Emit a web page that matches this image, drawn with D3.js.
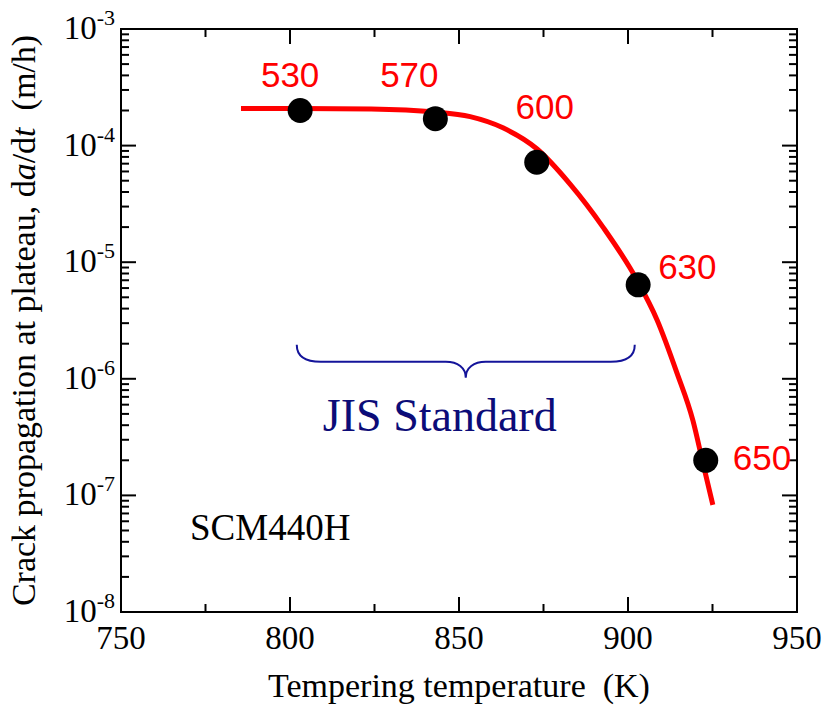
<!DOCTYPE html>
<html>
<head>
<meta charset="utf-8">
<script src="https://cdn.jsdelivr.net/npm/d3@7"></script>
<style>
  html, body { margin: 0; padding: 0; background: #fff; }
  svg { display: block; }
</style>
</head>
<body>
<svg id="chart" width="825" height="710"></svg>
<script>
// Measured points: tempering temperature (K) vs plateau crack growth rate (m/h)
const temps = [803, 843, 873, 903, 923];
const rates = [2.0e-4, 1.7e-4, 7.2e-5, 6.4e-6, 2.0e-7];
const tempLabels = ["530", "570", "600", "630", "650"]; // tempering temperature in °C

// Fitted trend curve
const curveT = [785.5, 803, 824, 843, 853.3, 863.0, 873.1, 882.8, 892.6, 902.7, 908.6, 914.5, 919.2, 922.1, 925.1];
const curveR = [2.08e-4, 2.08e-4, 2.06e-4, 1.94e-4, 1.77e-4, 1.42e-4, 9.35e-5, 4.7e-5, 2.0e-5, 7.0e-6, 3.2e-6, 1.12e-6, 4.4e-7, 1.93e-7, 8.3e-8];

// Axis ticks
const xTicks = [750, 800, 850, 900, 950];
const xMinor = [775, 825, 875, 925];
const yExponents = [-3, -4, -5, -6, -7, -8];

// JIS standard range (K)
const jisRange = [802, 902];
const jisLevel = 1.4e-6;

const svg = d3.select("#chart");
const L = 121, R = 797, T = 29, B = 612;

const x = d3.scaleLinear().domain([750, 950]).range([L, R]);
const y = d3.scaleLog().domain([1e-8, 1e-3]).range([B, T]);

const serif = "'Liberation Serif', 'Times New Roman', serif";
const sans = "'Liberation Sans', Arial, sans-serif";

// minor log ticks
const yMinor = [];
for (let e = -8; e < -3; e++) for (let m = 2; m <= 9; m++) yMinor.push(m * Math.pow(10, e));

const axes = svg.append("g").attr("stroke", "#000").attr("stroke-width", 2);

// frame
axes.append("rect").attr("x", L).attr("y", T).attr("width", R - L).attr("height", B - T)
  .attr("fill", "none");

// x ticks bottom & top
[[B, -1], [T, 1]].forEach(([yy, dir]) => {
  axes.selectAll(null).data(xTicks).enter().append("line")
    .attr("x1", d => x(d)).attr("x2", d => x(d))
    .attr("y1", yy).attr("y2", yy + dir * 15);
  axes.selectAll(null).data(xMinor).enter().append("line")
    .attr("x1", d => x(d)).attr("x2", d => x(d))
    .attr("y1", yy).attr("y2", yy + dir * 8);
});

// y ticks left & right
[[L, 1], [R, -1]].forEach(([xx, dir]) => {
  axes.selectAll(null).data(yExponents).enter().append("line")
    .attr("y1", d => y(Math.pow(10, d))).attr("y2", d => y(Math.pow(10, d)))
    .attr("x1", xx).attr("x2", xx + dir * 15);
  axes.selectAll(null).data(yMinor).enter().append("line")
    .attr("y1", d => y(d)).attr("y2", d => y(d))
    .attr("x1", xx).attr("x2", xx + dir * 8);
});

// x tick labels
svg.append("g").selectAll("text").data(xTicks).enter().append("text")
  .attr("x", d => x(d)).attr("y", B + 37)
  .attr("text-anchor", "middle")
  .attr("font-family", serif).attr("font-size", 33)
  .text(d => d);

// y tick labels 10^n
const yl = svg.append("g").attr("font-family", serif);
yExponents.forEach(e => {
  const t = yl.append("text")
    .attr("x", L - 6).attr("y", y(Math.pow(10, e)) + 10)
    .attr("text-anchor", "end").attr("font-size", 33);
  t.append("tspan").text("10");
  t.append("tspan").attr("font-size", 22).attr("dy", -14).text(String(e));
});

// axis titles
svg.append("text")
  .attr("x", (L + R) / 2).attr("y", 697)
  .attr("text-anchor", "middle")
  .attr("font-family", serif).attr("font-size", 34)
  .text("Tempering temperature\u00a0\u00a0(K)");

const yt = svg.append("text")
  .attr("transform", `translate(35, ${(T + B) / 2}) rotate(-90)`)
  .attr("text-anchor", "middle")
  .attr("font-family", serif).attr("font-size", 34);
yt.append("tspan").text("Crack propagation at plateau, d");
yt.append("tspan").attr("font-style", "italic").text("a");
yt.append("tspan").text("/d");
yt.append("tspan").attr("font-style", "italic").text("t");
yt.append("tspan").text("\u00a0\u00a0(m/h)");

// trend curve
const line = d3.line()
  .x(d => x(d[0])).y(d => y(d[1]))
  .curve(d3.curveMonotoneX);
svg.append("path")
  .datum(curveT.map((t, i) => [t, curveR[i]]))
  .attr("d", line)
  .attr("fill", "none").attr("stroke", "#ff0000").attr("stroke-width", 5);

// data points
svg.append("g").selectAll("circle").data(temps).enter().append("circle")
  .attr("cx", d => x(d)).attr("cy", (d, i) => y(rates[i]))
  .attr("r", 12.5).attr("fill", "#000");

// temperature labels (°C)
const labelOffsets = [[-10, -23], [-26, -32], [8, -43], [20, -6], [27, 10]];
svg.append("g").selectAll("text").data(temps).enter().append("text")
  .attr("x", (d, i) => x(d) + labelOffsets[i][0])
  .attr("y", (d, i) => y(rates[i]) + labelOffsets[i][1])
  .attr("text-anchor", (d, i) => i >= 3 ? "start" : "middle")
  .attr("font-family", sans).attr("font-size", 35)
  .attr("fill", "#ff0000")
  .text((d, i) => tempLabels[i]);

// JIS standard brace
const bx0 = x(jisRange[0]), bx1 = x(jisRange[1]), by = y(jisLevel);
const bm = (bx0 + bx1) / 2;
const brace = d3.path();
brace.moveTo(bx0, by - 17);
brace.bezierCurveTo(bx0, by - 6, bx0 + 8, by, bx0 + 24, by);
brace.lineTo(bm - 20, by);
brace.bezierCurveTo(bm - 8, by, bm, by + 6, bm, by + 16);
brace.bezierCurveTo(bm, by + 6, bm + 8, by, bm + 20, by);
brace.lineTo(bx1 - 24, by);
brace.bezierCurveTo(bx1 - 8, by, bx1, by - 6, bx1, by - 17);
svg.append("path").attr("d", brace.toString())
  .attr("fill", "none").attr("stroke", "#14149a").attr("stroke-width", 2);

svg.append("text")
  .attr("x", bm - 26).attr("y", by + 69)
  .attr("text-anchor", "middle")
  .attr("font-family", serif).attr("font-size", 46)
  .attr("fill", "#0c0c78")
  .text("JIS Standard");

// steel grade
svg.append("text")
  .attr("x", 190).attr("y", 540)
  .attr("font-family", serif).attr("font-size", 37)
  .text("SCM440H");
</script>
</body>
</html>
